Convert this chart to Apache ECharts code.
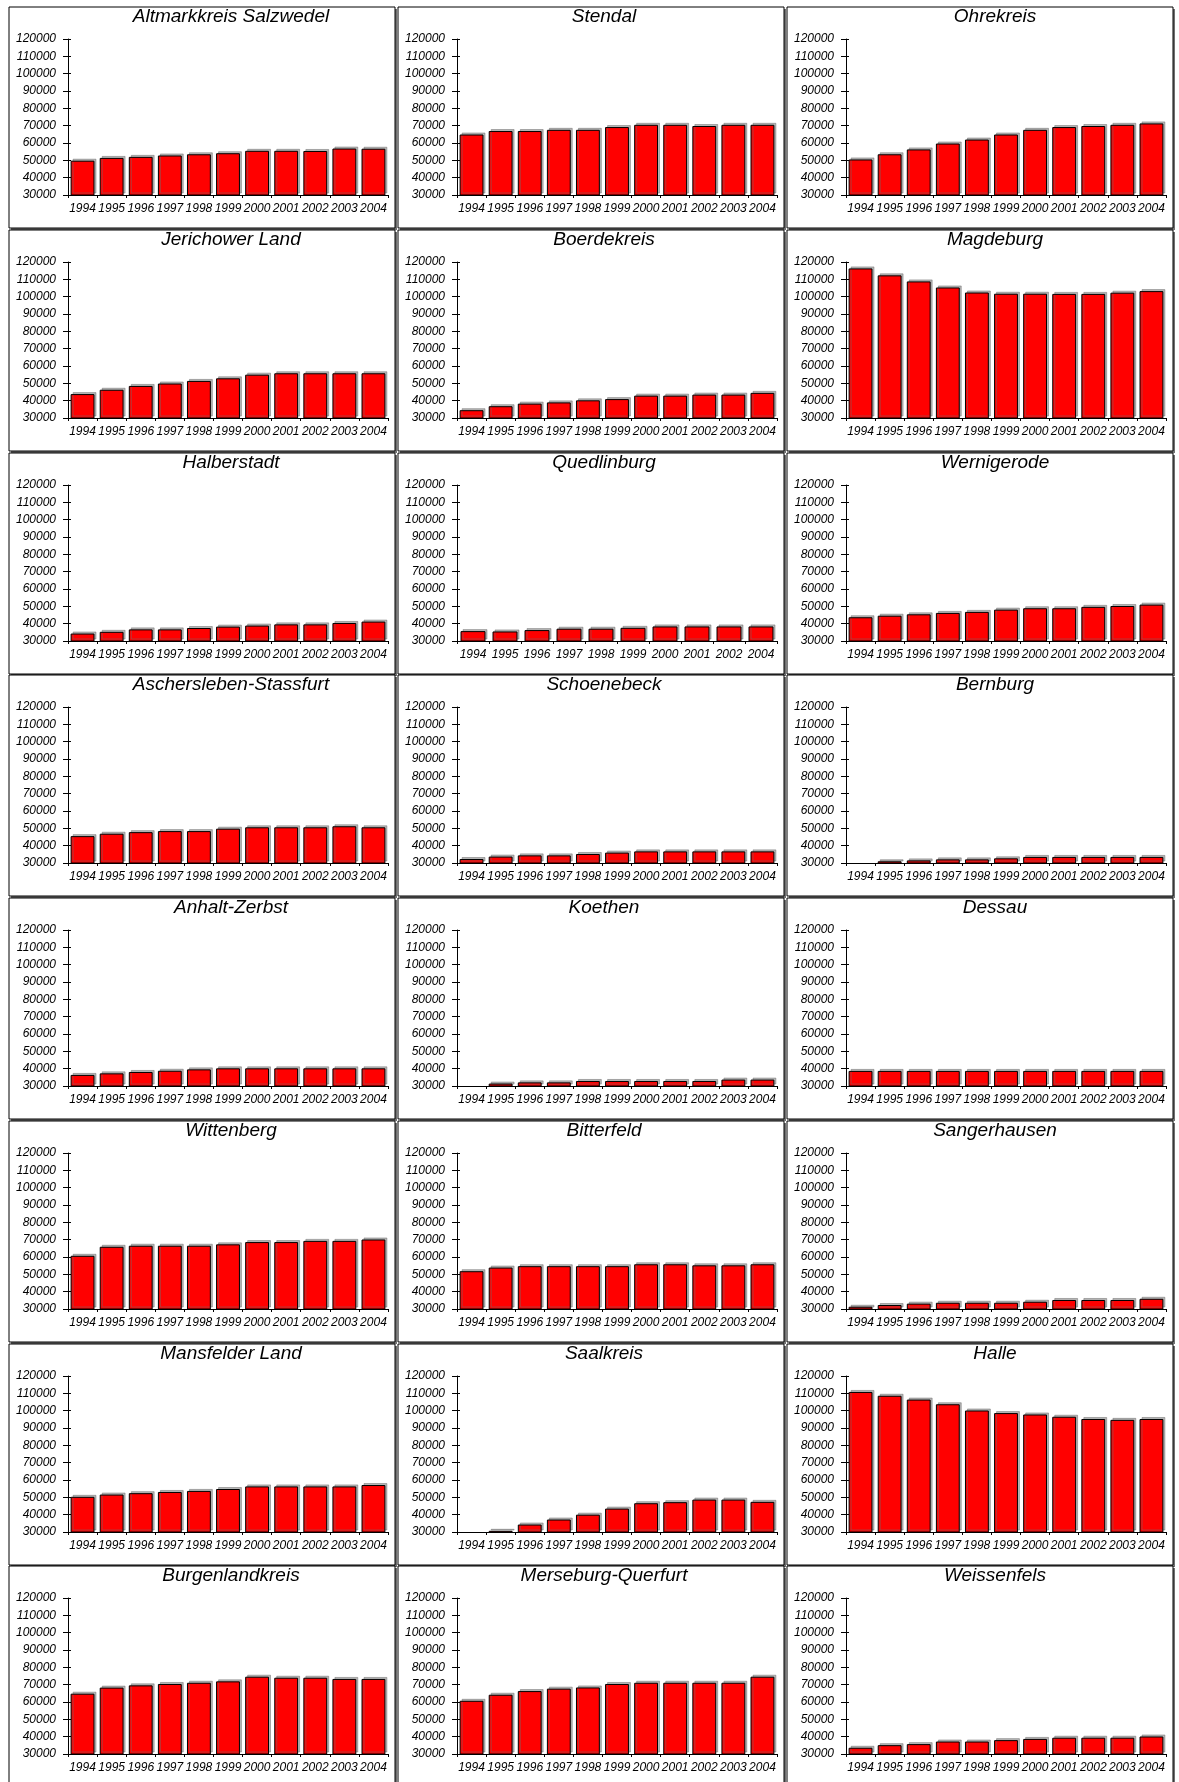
<!DOCTYPE html>
<html>
<head>
<meta charset="utf-8">
<script src="https://cdn.jsdelivr.net/npm/echarts@6/dist/echarts.min.js"></script>
<style>
  html, body { margin: 0; padding: 0; background: #ffffff; }
  #chart { width: 1179px; height: 1782px; }
</style>
</head>
<body>
<div id="chart"></div>
<script>
// Population by district (Sachsen-Anhalt), 1994–2004
const years = ['1994', '1995', '1996', '1997', '1998', '1999', '2000', '2001', '2002', '2003', '2004'];
// Quedlinburg has no 2003 entry
const quedlinburgYears = ['1994', '1995', '1996', '1997', '1998', '1999', '2000', '2001', '2002', '2004'];
const yMin = 30000;
const yMax = 120000;
const yStep = 10000;

const altmarkkreisSalzwedel = [49800, 51400, 52000, 52800, 53500, 54100, 55500, 55500, 55400, 56800, 56700];
const stendal = [64900, 66900, 66900, 67600, 67600, 69200, 70500, 70500, 69800, 70500, 70500];
const ohrekreis = [50500, 53500, 56300, 59700, 62000, 64900, 67600, 69200, 69800, 70500, 71300];
const jerichowerLand = [43800, 46300, 48500, 49900, 51400, 52900, 55000, 55800, 55800, 55800, 55800];
const boerdekreis = [34500, 36800, 38300, 39000, 40200, 40900, 42900, 42900, 43500, 43500, 44500];
const magdeburg = [116300, 112300, 108800, 105300, 102400, 101700, 101700, 101600, 101600, 102300, 103200];
const halberstadt = [34300, 35300, 36700, 36700, 37500, 38300, 38900, 39600, 39600, 40400, 41200];
const quedlinburg = [35700, 35500, 36300, 37100, 37100, 37600, 38400, 38400, 38400, 38400];
const wernigerode = [43700, 44600, 45400, 46200, 46800, 48100, 48900, 48900, 49700, 50200, 51000];
const ascherslebenStassfurt = [45500, 46900, 47800, 48400, 48400, 49800, 50600, 50600, 50600, 51200, 50600];
const schoenebeck = [32300, 33700, 34400, 34400, 35200, 36000, 36700, 36700, 36700, 36700, 36700];
const bernburg = [null, 31000, 31500, 32100, 32100, 32700, 33500, 33500, 33500, 33500, 33500];
const anhaltZerbst = [36400, 37300, 38100, 38800, 39600, 40200, 40200, 40200, 40200, 40200, 40200];
const koethen = [null, 31400, 32100, 32100, 32900, 32900, 32900, 32900, 32900, 33700, 33700];
const dessau = [38700, 38700, 38700, 38700, 38700, 38700, 38700, 38700, 38700, 38700, 38700];
const wittenberg = [60700, 65900, 66500, 66500, 66500, 67300, 68600, 68600, 69300, 69300, 70100];
const bitterfeld = [51800, 53900, 54700, 54700, 54700, 54700, 55800, 55800, 55200, 55200, 55800];
const sangerhausen = [31300, 32300, 33100, 33600, 33600, 33600, 34200, 35200, 35200, 35200, 35900];
const mansfelderLand = [50300, 51600, 52400, 53100, 53700, 54800, 56300, 56300, 56300, 56300, 57100];
const saalkreis = [null, 30700, 34300, 37200, 40000, 43500, 46600, 47200, 48700, 48700, 47400];
const halle = [110800, 108600, 106400, 103700, 100100, 98600, 97800, 96500, 95200, 94700, 95200];
const burgenlandkreis = [64800, 68300, 69600, 70400, 71100, 71900, 74600, 74000, 74000, 73300, 73300];
const merseburgQuerfurt = [60700, 64200, 66300, 67700, 68400, 70400, 71100, 71100, 71100, 71100, 74600];
const weissenfels = [33600, 35100, 35700, 37200, 37200, 38000, 38700, 39400, 39400, 39400, 40100];

const districtNames = [
  'Altmarkkreis Salzwedel', 'Stendal', 'Ohrekreis',
  'Jerichower Land', 'Boerdekreis', 'Magdeburg',
  'Halberstadt', 'Quedlinburg', 'Wernigerode',
  'Aschersleben-Stassfurt', 'Schoenebeck', 'Bernburg',
  'Anhalt-Zerbst', 'Koethen', 'Dessau',
  'Wittenberg', 'Bitterfeld', 'Sangerhausen',
  'Mansfelder Land', 'Saalkreis', 'Halle',
  'Burgenlandkreis', 'Merseburg-Querfurt', 'Weissenfels'
];
const districtValues = [
  altmarkkreisSalzwedel, stendal, ohrekreis,
  jerichowerLand, boerdekreis, magdeburg,
  halberstadt, quedlinburg, wernigerode,
  ascherslebenStassfurt, schoenebeck, bernburg,
  anhaltZerbst, koethen, dessau,
  wittenberg, bitterfeld, sangerhausen,
  mansfelderLand, saalkreis, halle,
  burgenlandkreis, merseburgQuerfurt, weissenfels
];
const districtYears = districtNames.map(n => (n === 'Quedlinburg' ? quedlinburgYears : years));

// panel layout: 3 columns x 8 rows
const FONT = "'Liberation Sans', Arial, sans-serif";
const colLeft = [9, 398, 787];
const titleCenter = [222, 206, 208];
const panelW = 386;
const panelH = 221;
const rowTop0 = 7;
const rowPitch = 222.75;

const grids = [], xAxes = [], yAxes = [], series = [], titles = [], frames = [];

districtNames.forEach((name, i) => {
  const col = i % 3;
  const row = Math.floor(i / 3);
  const px = colLeft[col];
  const py = Math.round(rowTop0 + row * rowPitch);
  const cats = districtYears[i];

  frames.push({
    type: 'rect', z: -20, silent: true,
    shape: { x: px + 2, y: py + 2, width: panelW, height: panelH },
    style: { fill: '#707070' }
  });
  frames.push({
    type: 'rect', z: -19, silent: true,
    shape: { x: px, y: py, width: panelW, height: panelH },
    style: { fill: '#ffffff', stroke: '#000000', lineWidth: 1 }
  });

  titles.push({
    text: name,
    left: px + titleCenter[col],
    top: py,
    textAlign: 'center',
    padding: 0,
    textStyle: { fontFamily: FONT, fontStyle: 'italic', fontWeight: 'normal', fontSize: 19, color: '#000000' }
  });

  grids.push({ left: px + 59, top: py + 32, width: 320, height: 156, containLabel: false });

  xAxes.push({
    type: 'category', gridIndex: i, data: cats, boundaryGap: true,
    axisLine: { show: true, lineStyle: { color: '#000000', width: 1 } },
    axisTick: { show: true, length: 3, lineStyle: { color: '#000000' } },
    axisLabel: { show: true, interval: 0, margin: 8, fontFamily: FONT, fontStyle: 'italic', fontSize: 12, color: '#000000' },
    splitLine: { show: false }
  });

  // main value axis with labels and outward ticks
  yAxes.push({
    type: 'value', gridIndex: i, min: yMin, max: yMax, interval: yStep,
    axisLine: { show: true, lineStyle: { color: '#000000', width: 1 } },
    axisTick: { show: true, length: 5, lineStyle: { color: '#000000' } },
    axisLabel: {
      show: true, margin: 12, fontFamily: FONT, fontStyle: 'italic', fontSize: 12, color: '#000000',
      formatter: v => String(v)
    },
    splitLine: { show: false }
  });
  // overlay axis giving the tick marks their inner half
  yAxes.push({
    type: 'value', gridIndex: i, position: 'left', offset: 0, min: yMin, max: yMax, interval: yStep,
    axisLine: { show: false },
    axisTick: { show: true, inside: true, length: 3, lineStyle: { color: '#000000' } },
    axisLabel: { show: false },
    splitLine: { show: false }
  });

  series.push({
    type: 'bar', name: name, xAxisIndex: i, yAxisIndex: 2 * i,
    data: districtValues[i],
    barCategoryGap: cats.length === 10 ? '22%' : '18%',
    itemStyle: {
      color: '#ff0000', borderColor: '#000000', borderWidth: 1,
      shadowColor: 'rgba(110,110,110,0.5)', shadowBlur: 0, shadowOffsetX: 2, shadowOffsetY: -2
    },
    emphasis: { disabled: true },
    animation: false
  });
});

const chart = echarts.init(document.getElementById('chart'), null, { renderer: 'canvas' });
chart.setOption({
  backgroundColor: '#ffffff',
  animation: false,
  title: titles,
  grid: grids,
  xAxis: xAxes,
  yAxis: yAxes,
  series: series,
  graphic: { elements: frames }
});
</script>
</body>
</html>
